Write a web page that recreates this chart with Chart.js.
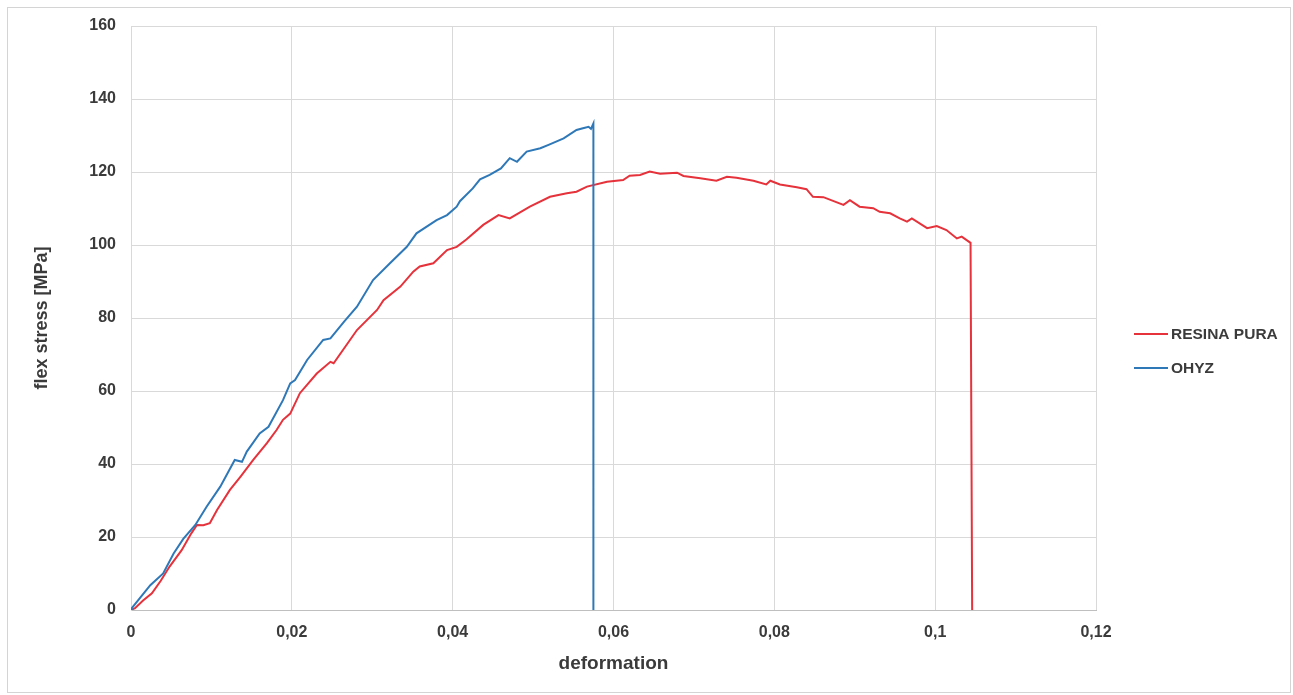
<!DOCTYPE html>
<html>
<head>
<meta charset="utf-8">
<script src="https://cdn.jsdelivr.net/npm/chart.js@4/dist/chart.umd.min.js"></script>
<style>
  html, body { margin: 0; padding: 0; background: #ffffff; }
  #wrap { width: 1293px; height: 695px; position: relative; }
</style>
</head>
<body>
<div id="wrap"><canvas id="c" width="1293" height="695"></canvas></div>
<script>
// Flexural test curves: deformation (x) vs flex stress in MPa (y)
const seriesNames = ['RESINA PURA', 'OHYZ'];
const seriesColors = ['#e5323b', '#2e78b8'];

const resinaX = [0, 0.0005, 0.0015, 0.0026, 0.0037, 0.0048, 0.0063, 0.0075, 0.0082, 0.0090,
  0.0098, 0.0107, 0.0123, 0.0136, 0.0152, 0.0169, 0.0181, 0.0189, 0.0198, 0.0210,
  0.0231, 0.0248, 0.0252, 0.0281,
  0.0306, 0.0314, 0.0335, 0.0351, 0.0359, 0.0376, 0.0393, 0.0405, 0.0417, 0.0438,
  0.0457, 0.0471, 0.0496, 0.0521, 0.0542, 0.0554, 0.0567, 0.0592, 0.0612, 0.0620,
  0.0633, 0.0645, 0.0658, 0.0679, 0.0687, 0.0708, 0.0728, 0.0741, 0.0753, 0.0774,
  0.0790, 0.0795, 0.0807, 0.0828, 0.0840, 0.0848, 0.0861, 0.0886, 0.0894, 0.0906,
  0.0923, 0.0931, 0.0944, 0.0956, 0.0965, 0.0971, 0.0990, 0.1002, 0.1014, 0.1027,
  0.1033, 0.1044, 0.1046];
const resinaY = [0, 0.5, 2.6, 4.6, 8.0, 11.9, 16.4, 21.0, 23.3, 23.2,
  23.8, 27.4, 32.9, 36.5, 41.1, 45.7, 49.3, 52.1, 53.8, 59.4,
  64.8, 68.0, 67.6, 76.7,
  82.2, 84.9, 88.6, 92.7, 94.1, 95.0, 98.6, 99.5, 101.5, 105.5,
  108.2, 107.3, 110.5, 113.2, 114.2, 114.6, 116.0, 117.3, 117.8, 119.0,
  119.2, 120.1, 119.5, 119.8, 118.9, 118.3, 117.6, 118.7, 118.4, 117.6,
  116.6, 117.6, 116.6, 115.8, 115.3, 113.2, 113.1, 111.0, 112.3, 110.5,
  110.1, 109.1, 108.7, 107.3, 106.4, 107.3, 104.6, 105.2, 104.1, 101.8,
  102.3, 100.6, 0];

const ohyzX = [0, 0.0001, 0.0012, 0.0024, 0.0040, 0.0053, 0.0065, 0.0080, 0.0094, 0.0111,
  0.0129, 0.0138, 0.0144, 0.0160, 0.0171, 0.0189, 0.0198, 0.0204, 0.0219, 0.0239, 0.0248, 0.0265,
  0.0281, 0.0301, 0.0322, 0.0343, 0.0355, 0.0380, 0.0393, 0.0405, 0.0409, 0.0425,
  0.0434, 0.0446, 0.0460, 0.0471, 0.0480, 0.0492, 0.0509, 0.0520, 0.0538, 0.0554,
  0.0562, 0.0569, 0.0572, 0.0575, 0.0575];
const ohyzY = [0, 0.5, 3.5, 6.8, 10.0, 15.5, 19.5, 23.3, 28.3, 33.8,
  41.1, 40.6, 43.4, 48.4, 50.2, 57.5, 62.1, 63.0, 68.5, 74.0, 74.4, 79.0,
  83.1, 90.4, 95.0, 99.5, 103.2, 106.8, 108.2, 110.5, 112.0, 115.5,
  118.0, 119.2, 121.0, 123.8, 122.8, 125.6, 126.5, 127.5, 129.2, 131.5,
  132.0, 132.4, 131.8, 133.3, 0];

const xTickValues = [0, 0.02, 0.04, 0.06, 0.08, 0.1, 0.12];
const yTickValues = [0, 20, 40, 60, 80, 100, 120, 140, 160];

const xTitle = 'deformation';
const yTitle = 'flex stress [MPa]';

const toPoints = (xs, ys) => xs.map((x, i) => ({ x: x, y: ys[i] }));
const commaNum = v => String(Math.round(v * 1000) / 1000).replace('.', ',');

const textColor = '#3b3b3b';
const gridColor = '#d9d9d9';
const fontFamily = '"Liberation Sans", Arial, sans-serif';

// outer frame around the whole chart
const framePlugin = {
  id: 'frame',
  beforeDraw(chart) {
    const ctx = chart.ctx;
    ctx.save();
    ctx.fillStyle = '#ffffff';
    ctx.fillRect(0, 0, chart.width, chart.height);
    ctx.strokeStyle = '#d4d4d4';
    ctx.lineWidth = 1;
    ctx.strokeRect(7.5, 7.5, chart.width - 10, chart.height - 10);
    ctx.restore();
  }
};

// legend on the right: short line sample followed by the series name
const sideLegend = {
  id: 'sideLegend',
  afterDraw(chart) {
    const ctx = chart.ctx;
    ctx.save();
    ctx.font = 'bold 15.5px ' + fontFamily;
    ctx.textBaseline = 'middle';
    ctx.textAlign = 'left';
    const x0 = chart.chartArea.right + 38;
    const rows = [334, 368];
    seriesNames.forEach((name, i) => {
      const y = rows[i];
      ctx.strokeStyle = seriesColors[i];
      ctx.lineWidth = 2;
      ctx.beginPath();
      ctx.moveTo(x0, y);
      ctx.lineTo(x0 + 34, y);
      ctx.stroke();
      ctx.fillStyle = textColor;
      ctx.fillText(name, x0 + 37, y + 1);
    });
    ctx.restore();
  }
};

new Chart(document.getElementById('c'), {
  type: 'scatter',
  data: {
    datasets: [
      {
        label: seriesNames[0],
        data: toPoints(resinaX, resinaY),
        showLine: true,
        borderColor: seriesColors[0],
        backgroundColor: seriesColors[0],
        borderWidth: 2,
        pointRadius: 0,
        tension: 0,
        order: 1
      },
      {
        label: seriesNames[1],
        data: toPoints(ohyzX, ohyzY),
        showLine: true,
        borderColor: seriesColors[1],
        backgroundColor: seriesColors[1],
        borderWidth: 2,
        pointRadius: 0,
        tension: 0,
        order: 0
      }
    ]
  },
  options: {
    responsive: false,
    animation: false,
    layout: { padding: { top: 26, right: 197, left: 0, bottom: 0 } },
    plugins: {
      legend: { display: false },
      tooltip: { enabled: false }
    },
    scales: {
      x: {
        type: 'linear',
        min: 0,
        max: 0.12,
        afterBuildTicks(scale) { scale.ticks = xTickValues.map(v => ({ value: v })); },
        afterFit(scale) { scale.height = 85; },
        ticks: {
          padding: 13,
          color: textColor,
          font: { family: fontFamily, size: 16, weight: 'bold' },
          callback: v => commaNum(v),
          maxRotation: 0
        },
        grid: { color: gridColor, lineWidth: 1, drawTicks: false },
        border: { color: '#bfbfbf', width: 1 },
        title: {
          display: true,
          text: xTitle,
          color: textColor,
          font: { family: fontFamily, size: 19, weight: 'bold' },
          padding: { top: 0, bottom: 20 }
        }
      },
      y: {
        type: 'linear',
        min: 0,
        max: 160,
        afterBuildTicks(scale) { scale.ticks = yTickValues.map(v => ({ value: v })); },
        afterFit(scale) { scale.width = 131; },
        ticks: {
          padding: 15,
          color: textColor,
          font: { family: fontFamily, size: 16, weight: 'bold' },
          callback: v => commaNum(v)
        },
        grid: { color: gridColor, lineWidth: 1, drawTicks: false },
        border: { color: gridColor, width: 1 },
        title: {
          display: true,
          text: yTitle,
          color: textColor,
          font: { family: fontFamily, size: 18, weight: 'bold' },
          padding: { top: 31, bottom: 0 }
        }
      }
    }
  },
  plugins: [framePlugin, sideLegend]
});
</script>
</body>
</html>
